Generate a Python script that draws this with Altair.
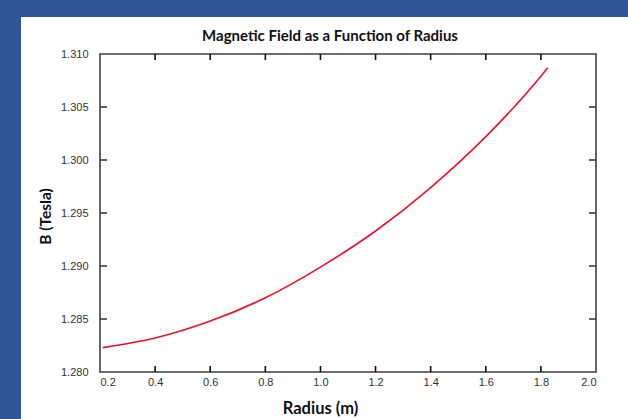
import altair as alt
import pandas as pd

# data
radius = [0.21, 0.4, 0.6, 0.8, 1.0, 1.2, 1.4, 1.6, 1.8, 1.825]
bfield = [1.2823, 1.2832, 1.2848, 1.2870, 1.2899, 1.2933, 1.2974, 1.3022, 1.3079, 1.3087]
x_ticks = [0.2, 0.4, 0.6, 0.8, 1.0, 1.2, 1.4, 1.6, 1.8, 2.0]
y_ticks = [1.280, 1.285, 1.290, 1.295, 1.300, 1.305, 1.310]
title_text = ["Magnetic Field as a Function of Radius"]

W, H = 496, 318
FRAME = "#404040"
BLUE = "#2f5597"

line_df = pd.DataFrame({"r": radius, "b": bfield})
xt_df = pd.DataFrame({"r": x_ticks[1:-1]})
yt_df = pd.DataFrame({"b": y_ticks[1:-1]})
one = pd.DataFrame({"k": [0]})
title_df = pd.DataFrame({"t": title_text})

xscale = alt.Scale(domain=[0.2, 2.0], nice=False, zero=False)
yscale = alt.Scale(domain=[1.28, 1.31], nice=False, zero=False)

line = alt.Chart(line_df).mark_line(color="#f0102a", strokeWidth=1.6, interpolate="monotone").encode(
    x=alt.X("r:Q", scale=xscale, axis=alt.Axis(
        values=x_ticks, format=".1f", title="Radius (m)", titleX=220, titleY=41,
        titleAlign="center", titleBaseline="alphabetic", titleFontSize=16.5, labelPadding=4)),
    y=alt.Y("b:Q", scale=yscale, axis=alt.Axis(
        values=y_ticks, format=".3f", title="B (Tesla)", titleX=-55, titleY=162,
        titleAngle=270, titleAlign="center", titleBaseline="middle", titleFontSize=15.5,
        labelPadding=12)),
)

bt = alt.Chart(xt_df).mark_rule(color="#111", strokeWidth=1.6).encode(
    x="r:Q", y=alt.value(H), y2=alt.value(H - 6))
tt = alt.Chart(xt_df).mark_rule(color="#111", strokeWidth=1.6).encode(
    x="r:Q", y=alt.value(0), y2=alt.value(6))
lt = alt.Chart(yt_df).mark_rule(color=FRAME, strokeWidth=1.6).encode(
    y="b:Q", x=alt.value(0), x2=alt.value(7))
rt = alt.Chart(yt_df).mark_rule(color=FRAME, strokeWidth=1.6).encode(
    y="b:Q", x=alt.value(W), x2=alt.value(W - 7))

top_strip = alt.Chart(one).mark_rect(color=BLUE).encode(
    x=alt.value(-100), x2=alt.value(W + 32), y=alt.value(-54), y2=alt.value(-37))
left_strip = alt.Chart(one).mark_rect(color=BLUE).encode(
    x=alt.value(-100), x2=alt.value(-79), y=alt.value(-54), y2=alt.value(H + 47))

title = alt.Chart(title_df).mark_text(
    font="Lato", fontSize=15, fontWeight="bold", color="#111",
    align="center", baseline="alphabetic").encode(
    text="t:N", x=alt.value(230), y=alt.value(-13))

chart = alt.layer(top_strip, left_strip, title, line, bt, tt, lt, rt).properties(
    width=W, height=H,
    autosize="none",
    padding={"left": 100, "top": 54, "right": 32, "bottom": 47},
    background="white",
).configure_view(stroke=FRAME, strokeWidth=1.6).configure_axis(
    domain=False, ticks=False, grid=False,
    labelFont="Liberation Sans", labelFontSize=11, labelColor="#333",
    titleFont="Lato", titleFontSize=14, titleFontWeight="bold", titleColor="#111",
)

chart.save("out.html", embed_options={"renderer": "svg", "actions": False})
